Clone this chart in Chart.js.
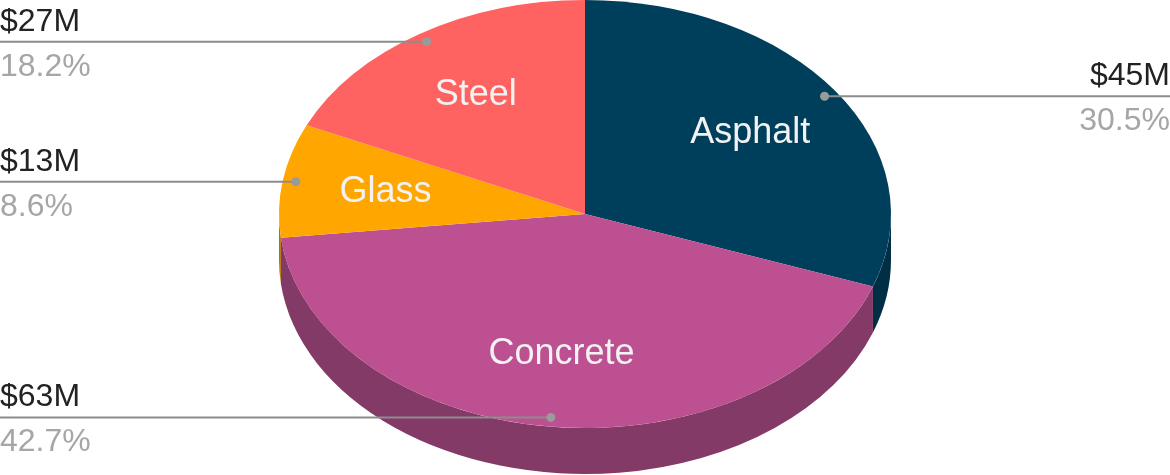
<!DOCTYPE html>
<html>
<head>
<meta charset="utf-8">
<script src="https://cdn.jsdelivr.net/npm/chart.js@4"></script>
<style>
  html, body { margin: 0; padding: 0; background: #fff; }
  #pie { display: block; }
</style>
</head>
<body>
<canvas id="pie" width="1170" height="475"></canvas>
<script>
// Data (spend by material, $M)
const materials = ["Asphalt", "Concrete", "Glass", "Steel"];
const spend = [45.1, 63.2, 12.7, 26.9];

// Colours: top faces and darker side walls
const topColors = ["#003f5c", "#bc5090", "#ffa600", "#ff6361"];
const sideColors = ["#002e44", "#843a66", "#b37400", "#b34545"];

// 3D look: ellipse centre, radii and wall depth
const CX = 585, CY = 214, RX = 306, RY = 214, DEPTH = 46;

const total = spend.reduce((a, b) => a + b, 0);
const valueText = v => "$" + Math.round(v) + "M";
const pctText = v => (v / total * 100).toFixed(1) + "%";

const pie3d = {
    id: 'pie3d',
    beforeDatasetsDraw(chart) {
        const ctx = chart.ctx;
        const meta = chart.getDatasetMeta(0);
        const first = meta.data[0];
        const r = first.outerRadius;

        // side walls, only the front half (0..PI) is visible
        meta.data.forEach((arc, i) => {
            const lo = Math.max(arc.startAngle, 0);
            const hi = Math.min(arc.endAngle, Math.PI);
            if (hi <= lo) return;
            ctx.beginPath();
            ctx.ellipse(CX, CY, RX, RY, 0, lo, hi, false);
            ctx.ellipse(CX, CY + DEPTH, RX, RY, 0, hi, lo, true);
            ctx.closePath();
            ctx.fillStyle = sideColors[i];
            ctx.fill();
        });

        // squash the chart's round pie into the top ellipse
        ctx.save();
        ctx.translate(CX, CY);
        ctx.scale(RX / r, RY / r);
        ctx.translate(-first.x, -first.y);
    },
    afterDatasetsDraw(chart) {
        const ctx = chart.ctx;
        ctx.restore();
        const meta = chart.getDatasetMeta(0);
        const W = chart.width;

        meta.data.forEach((arc, i) => {
            const mid = (arc.startAngle + arc.endAngle) / 2;
            const at = k => [CX + RX * k * Math.cos(mid), CY + RY * k * Math.sin(mid)];

            // name inside the slice
            const [lx, ly] = at(0.66);
            ctx.font = "36px 'Liberation Sans', Arial, sans-serif";
            ctx.fillStyle = "#f2f2f2";
            ctx.textAlign = "center";
            ctx.textBaseline = "middle";
            ctx.fillText(materials[i], lx, ly);

            // leader line to the edge
            const [dx, dy] = at(0.957);
            const left = Math.cos(mid) < 0;
            const ex = left ? 0 : W;
            ctx.strokeStyle = "#8c8c8c";
            ctx.lineWidth = 2;
            ctx.beginPath();
            ctx.moveTo(dx, dy);
            ctx.lineTo(ex, dy);
            ctx.stroke();
            ctx.fillStyle = "#9a9a9a";
            ctx.beginPath();
            ctx.arc(dx, dy, 4.5, 0, Math.PI * 2);
            ctx.fill();

            ctx.font = "32px 'Liberation Sans', Arial, sans-serif";
            ctx.textAlign = left ? "left" : "right";
            ctx.textBaseline = "alphabetic";
            const tx = left ? 0 : W;
            ctx.fillStyle = "#222222";
            ctx.fillText(valueText(spend[i]), tx, dy - 11);
            ctx.fillStyle = "#a6a6a6";
            ctx.fillText(pctText(spend[i]), tx, dy + 34);
        });
    }
};

new Chart(document.getElementById('pie').getContext('2d'), {
    type: 'pie',
    data: {
        labels: materials,
        datasets: [{
            data: spend,
            backgroundColor: topColors,
            borderWidth: 0
        }]
    },
    options: {
        responsive: false,
        animation: false,
        layout: { padding: 0 },
        plugins: {
            legend: { display: false },
            tooltip: { enabled: false }
        }
    },
    plugins: [pie3d]
});
</script>
</body>
</html>
